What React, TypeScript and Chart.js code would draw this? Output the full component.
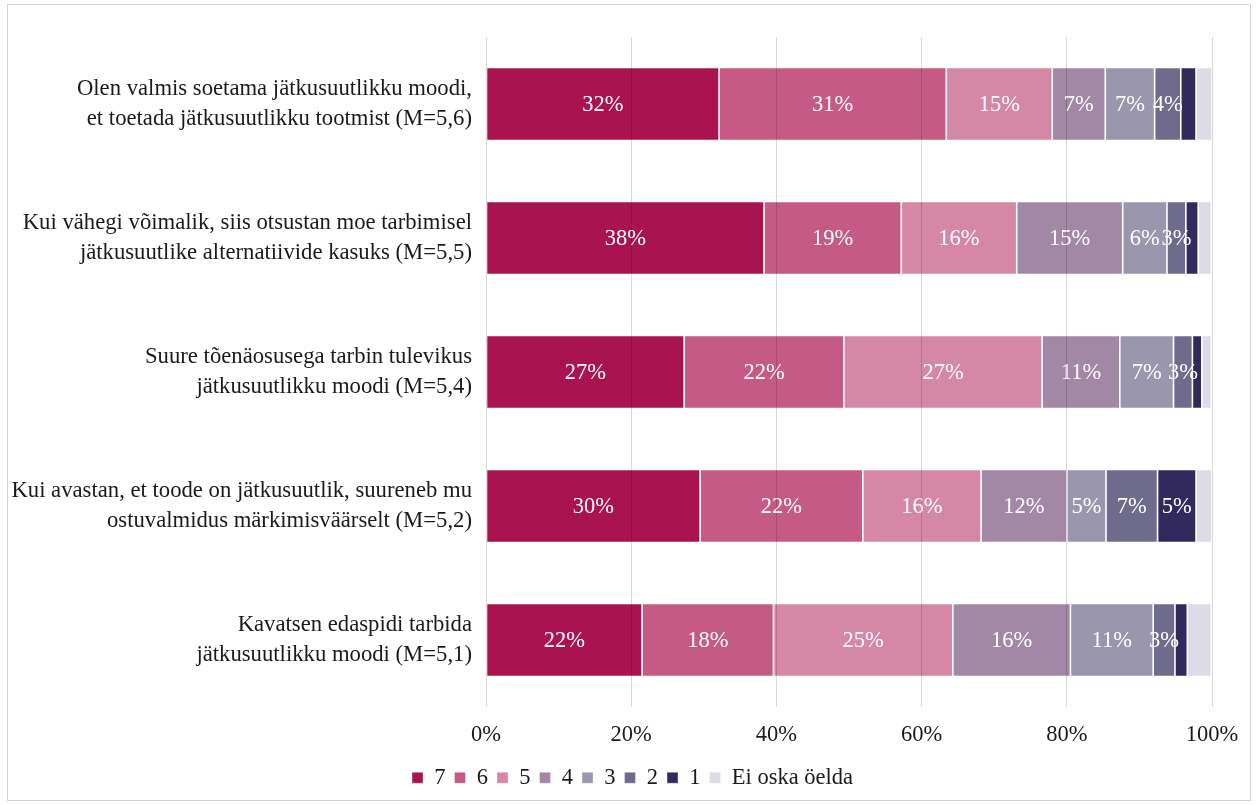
import React, { useEffect, useRef } from "react";
import { Chart, registerables } from "chart.js";

Chart.register(...registerables);

const categories: string[][] = [
  ["Olen valmis soetama jätkusuutlikku moodi,", "et toetada jätkusuutlikku tootmist (M=5,6)"],
  ["Kui vähegi võimalik, siis otsustan moe tarbimisel", "jätkusuutlike alternatiivide kasuks (M=5,5)"],
  ["Suure tõenäosusega tarbin tulevikus", "jätkusuutlikku moodi (M=5,4)"],
  ["Kui avastan, et toode on jätkusuutlik, suureneb mu", "ostuvalmidus märkimisväärselt (M=5,2)"],
  ["Kavatsen edaspidi tarbida", "jätkusuutlikku moodi (M=5,1)"],
];

const seriesNames = ["7", "6", "5", "4", "3", "2", "1", "Ei oska öelda"];

const s7 = [32.1, 38.3, 27.3, 29.5, 21.5];
const s6 = [31.3, 18.9, 22.0, 22.4, 18.1];
const s5 = [14.6, 15.9, 27.3, 16.3, 24.7];
const s4 = [7.3, 14.6, 10.7, 11.8, 16.2];
const s3 = [6.8, 6.1, 7.4, 5.4, 11.4];
const s2 = [3.6, 2.6, 2.6, 7.1, 3.0];
const s1 = [2.1, 1.7, 1.3, 5.3, 1.7];
const sEi = [2.2, 1.8, 1.3, 2.2, 3.3];

const seriesValues = [s7, s6, s5, s4, s3, s2, s1, sEi];
const seriesColors = ["#A91450", "#C55B85", "#D488A5", "#A388A5", "#9A96AE", "#6F6B8C", "#322A5C", "#DCDBE6"];

const xTicks = [0, 20, 40, 60, 80, 100];

const FONT = "'Liberation Serif', 'Times New Roman', serif";

const labelPlugin = {
  id: "segLabels",
  afterDatasetsDraw(chart: any) {
    const ctx = chart.ctx;
    ctx.save();
    ctx.font = `22.5px ${FONT}`;
    ctx.fillStyle = "#ffffff";
    ctx.textAlign = "center";
    ctx.textBaseline = "middle";
    chart.data.datasets.forEach((ds: any, di: number) => {
      if (di === chart.data.datasets.length - 1) return;
      const meta = chart.getDatasetMeta(di);
      meta.data.forEach((el: any, i: number) => {
        const v = ds.data[i];
        if (v < 2.5) return;
        const cx = (el.x + el.base) / 2;
        ctx.fillText(Math.round(v) + "%", cx, el.y + 1);
      });
    });
    ctx.restore();
  },
};

const legendShift = {
  id: "legendShift",
  afterLayout(chart: any) {
    if (chart.legend) {
      chart.legend.left += 22;
      chart.legend.right += 22;
    }
  },
};

export default function App() {
  const ref = useRef<HTMLCanvasElement>(null);
  useEffect(() => {
    if (!ref.current) return;
    const chart = new Chart(ref.current, {
      type: "bar",
      data: {
        labels: categories,
        datasets: seriesNames.map((n, i) => ({
          label: n,
          data: seriesValues[i],
          backgroundColor: seriesColors[i],
          borderColor: "rgba(255,255,255,0.45)",
          borderWidth: 0.8,
          borderSkipped: false,
          barPercentage: 0.545,
          categoryPercentage: 1,
        })),
      },
      options: {
        indexAxis: "y",
        animation: false,
        responsive: true,
        maintainAspectRatio: false,
        layout: { padding: { left: 0, right: 35, top: 28, bottom: 0 } },
        scales: {
          x: {
            stacked: true,
            min: 0,
            max: 100,
            afterBuildTicks: (scale: any) => {
              scale.ticks = xTicks.map((v) => ({ value: v }));
            },
            afterFit: (scale: any) => {
              scale.height = 50.5;
              scale.paddingLeft = 0;
              scale.paddingRight = 0;
            },
            grid: { color: "rgba(0,0,0,0.15)", lineWidth: 1, drawTicks: false, z: 1 },
            border: { display: false },
            ticks: {
              padding: 15,
              color: "#1a1a1a",
              font: { family: FONT, size: 22.5 },
              callback: (v: any) => v + "%",
            },
          },
          y: {
            stacked: true,
            afterFit: (scale: any) => {
              scale.width = 477;
              scale.paddingTop = 0;
              scale.paddingBottom = 0;
            },
            grid: { display: false, drawTicks: false },
            border: { display: false },
            ticks: {
              padding: 14,
              color: "#1a1a1a",
              font: { family: FONT, size: 22.7, lineHeight: 1.3 },
            },
          },
        },
        plugins: {
          legend: {
            position: "bottom",
            labels: {
              boxWidth: 11,
              boxHeight: 11,
              padding: 9,
              color: "#1a1a1a",
              font: { family: FONT, size: 22.5 },
            },
          },
          tooltip: { enabled: false },
        },
      },
      plugins: [labelPlugin, legendShift],
    } as any);
    return () => chart.destroy();
  }, []);

  return (
    <div>
      <div
        style={{
          position: "fixed",
          left: 7,
          top: 4,
          width: 1244,
          height: 797,
          border: "1px solid #d4d4d4",
          boxSizing: "border-box",
          pointerEvents: "none",
        }}
      />
      <div style={{ position: "fixed", left: 9, top: 9, width: 1238, height: 790 }}>
        <canvas ref={ref} />
      </div>
    </div>
  );
}
